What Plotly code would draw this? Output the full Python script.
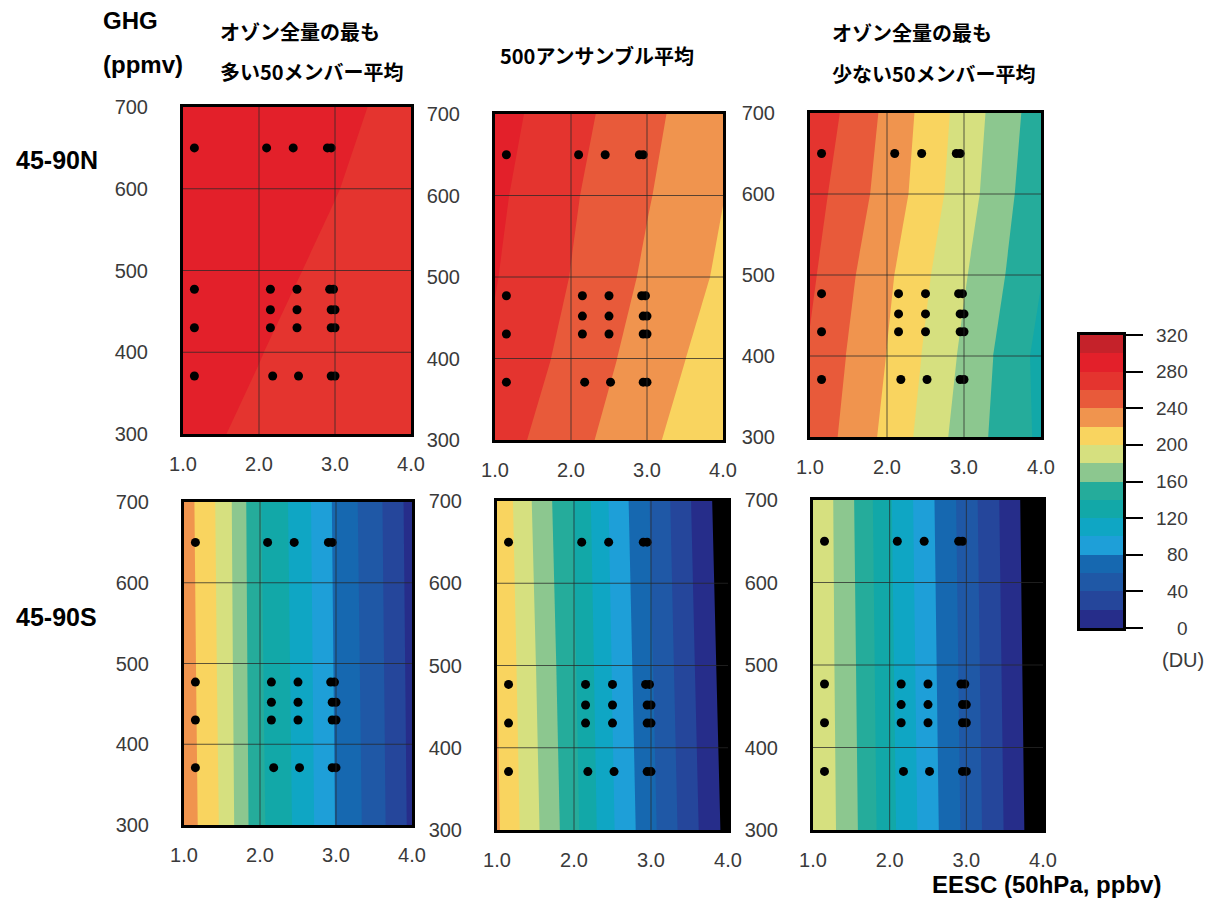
import plotly.graph_objects as go

W, H = 1209, 900

# ---------------- data ----------------
eesc_grid_top = [1.0, 2.0, 3.0, 4.0]
ghg_grid_top = [300, 400, 500, 600, 700]
eesc_grid_bottom = [1.0, 1.5, 2.0, 2.5, 3.0, 3.5, 4.0]
ghg_grid_bottom = [300, 500, 700]

# total ozone (DU), rows = GHG, columns = EESC
ozone_nh_high = [
    [284, 277, 270, 263],
    [287, 280.5, 273, 266],
    [291, 284, 277, 270],
    [294, 287, 280.5, 273],
    [297, 290, 283, 276],
]
ozone_nh_mean = [
    [269.5, 247, 224.5, 201.5],
    [277, 254, 231, 209.5],
    [281, 259.5, 237, 216.5],
    [284, 262.5, 241.5, 220.5],
    [288, 267, 245.5, 224],
]
ozone_nh_low = [
    [254, 215, 171, 136],
    [258, 219.5, 176, 134],
    [263.5, 224, 182, 141],
    [268.5, 232, 189, 145],
    [275.5, 235.5, 192, 149],
]
ozone_sh_high = [
    [233, 197, 144, 115.5, 79, 51, 15],
    [231.5, 195, 142.5, 114, 77.5, 49.5, 13.5],
    [230, 193.5, 141, 112.5, 76, 48, 12],
]
ozone_sh_mean = [
    [223, 184, 146, 102, 65.5, 28.5, -7],
    [220, 180.5, 142.5, 99, 62, 25, -11],
    [217, 176, 139, 95.5, 58.5, 21.5, -15],
]
ozone_sh_low = [
    [199.5, 167, 126, 90, 54.5, 19, -18],
    [199, 165, 124, 88, 52.5, 17, -20],
    [199, 163, 122, 86, 50.5, 15, -22],
]

# ensemble member scenario points
dot_eesc = [1.15, 2.1, 2.45, 2.9, 2.95,
            1.15, 2.15, 2.5, 2.93, 2.98,
            2.15, 2.5, 2.95, 3.0,
            1.15, 2.15, 2.5, 2.95, 3.0,
            1.15, 2.18, 2.52, 2.95, 3.0]
dot_ghg = [650, 650, 650, 650, 650,
           477, 477, 477, 477, 477,
           452, 452, 452, 452,
           430, 430, 430, 430, 430,
           371, 371, 371, 371, 371]

x_ticks = [1.0, 2.0, 3.0, 4.0]
x_ticklabels = ["1.0", "2.0", "3.0", "4.0"]
y_ticks = [300, 400, 500, 600, 700]
du_levels = [0, 20, 40, 60, 80, 100, 120, 140, 160, 180, 200, 220, 240, 260, 280, 300, 320]
du_ticks = [0, 40, 80, 120, 160, 200, 240, 280, 320]

band_colors = ["#262D8A", "#25469B", "#1F58A6", "#1668B0", "#1E9FD8", "#0FA6C4",
               "#12A8A8", "#25AC9B", "#8CC78F", "#D6E07F", "#F9D45F", "#F0944E",
               "#E85A3A", "#E4342F", "#E3202A", "#C5222A"]

titles_top = [
    ("オゾン全量の最も", 218, 31), ("多い50メンバー平均", 218, 71),
    ("500アンサンブル平均", 498, 56),
    ("オゾン全量の最も", 830, 33), ("少ない50メンバー平均", 830, 73),
]

# ---------------- figure ----------------
n = len(band_colors)
contour_cs = [[0.0, "#000000"]] + [[(k + 1) / n, c] for k, c in enumerate(band_colors)]
bar_cs = []
for k, c in enumerate(band_colors):
    bar_cs.append([k / n, c])
    bar_cs.append([(k + 1) / n, c])

panels = [
    (eesc_grid_top, ghg_grid_top, ozone_nh_high, (183, 411, 107, 434)),
    (eesc_grid_top, ghg_grid_top, ozone_nh_mean, (495, 723, 114, 440)),
    (eesc_grid_top, ghg_grid_top, ozone_nh_low, (810, 1041, 113, 437)),
    (eesc_grid_bottom, ghg_grid_bottom, ozone_sh_high, (184, 412, 502, 825)),
    (eesc_grid_bottom, ghg_grid_bottom, ozone_sh_mean, (497, 728, 501, 830)),
    (eesc_grid_bottom, ghg_grid_bottom, ozone_sh_low, (813, 1043, 500, 830)),
]

fig = go.Figure()
shapes = []
tickfont = dict(family="Liberation Sans, Arial", size=20, color="#3a3a3a")

for i, (xg, yg, z, (x0, x1, y0, y1)) in enumerate(panels, start=1):
    sx = "" if i == 1 else str(i)
    xa, ya = "x" + sx, "y" + sx
    fig.add_trace(go.Contour(
        x=xg, y=yg, z=z, xaxis=xa, yaxis=ya,
        autocontour=False,
        contours=dict(start=0, end=300, size=20, coloring="fill", showlines=False),
        line=dict(width=0, smoothing=0),
        colorscale=contour_cs, showscale=False, hoverinfo="skip",
    ))
    fig.add_trace(go.Scatter(
        x=dot_eesc, y=dot_ghg, xaxis=xa, yaxis=ya, mode="markers",
        marker=dict(color="black", size=9), hoverinfo="skip",
    ))
    fig.layout["xaxis" + sx] = dict(
        domain=[x0 / W, x1 / W], range=[x_ticks[0], x_ticks[-1]], anchor=ya,
        tickvals=x_ticks, ticktext=x_ticklabels, showgrid=False, zeroline=False,
        showline=True, mirror=True, linewidth=3, linecolor="black", ticks="",
        tickfont=tickfont, layer="above traces", ticklabelstandoff=10, automargin=False,
    )
    fig.layout["yaxis" + sx] = dict(
        domain=[1 - y1 / H, 1 - y0 / H], range=[y_ticks[0], y_ticks[-1]], anchor=xa,
        tickvals=y_ticks, showgrid=False, zeroline=False,
        showline=True, mirror=True, linewidth=3, linecolor="black", ticks="",
        tickfont=tickfont, layer="above traces", ticklabelstandoff=28, automargin=False,
    )
    for v in x_ticks[1:-1]:
        shapes.append(dict(type="line", xref=xa, yref=ya + " domain", x0=v, x1=v, y0=0, y1=1,
                           line=dict(color="rgba(40,40,40,0.75)", width=1), layer="above"))
    for v in y_ticks[1:-1]:
        shapes.append(dict(type="line", xref=xa + " domain", yref=ya, x0=0, x1=1, y0=v, y1=v,
                           line=dict(color="rgba(40,40,40,0.75)", width=1), layer="above"))

# colour bar as a heatmap column
band_centers = [(a + b) / 2 for a, b in zip(du_levels[:-1], du_levels[1:])]
fig.add_trace(go.Heatmap(
    x=[0], y=band_centers, z=[[v] for v in band_centers], xaxis="x7", yaxis="y7",
    zmin=du_levels[0], zmax=du_levels[-1], colorscale=bar_cs, showscale=False, hoverinfo="skip",
))
fig.layout["xaxis7"] = dict(domain=[1080 / W, 1123 / W], range=[-0.5, 0.5], anchor="y7",
                            showticklabels=False, showgrid=False, zeroline=False, automargin=False,
                            showline=True, mirror=True, linewidth=3, linecolor="black", ticks="")
fig.layout["yaxis7"] = dict(domain=[1 - 628 / H, 1 - 335 / H], range=[du_levels[0], du_levels[-1]],
                            anchor="x7", side="right", tickvals=du_ticks, ticks="outside",
                            ticklen=17, tickwidth=2, tickcolor="black", showticklabels=False,
                            showgrid=False, zeroline=False, showline=True, mirror=True,
                            linewidth=3, linecolor="black", automargin=False)

annotations = []
for v in du_ticks:
    annotations.append(dict(xref="paper", yref="y7", x=1190 / W, y=v, xanchor="right",
                            yanchor="middle", text=str(v), showarrow=False,
                            font=dict(family="Liberation Sans, Arial", size=19, color="#3a3a3a")))
annotations.append(dict(xref="paper", yref="paper", x=1160 / W, y=1 - 660 / H, xanchor="left",
                        yanchor="middle", text="(DU)", showarrow=False,
                        font=dict(family="Liberation Sans, Arial", size=20, color="#3a3a3a")))

for txt, px, py, sz in [("<b>GHG</b>", 101, 21, 24), ("<b>(ppmv)</b>", 101, 64, 24),
                        ("<b>45-90N</b>", 14, 160, 25), ("<b>45-90S</b>", 14, 617, 25),
                        ("<b>EESC (50hPa, ppbv)</b>", 930, 884, 24)]:
    annotations.append(dict(xref="paper", yref="paper", x=px / W, y=1 - py / H, xanchor="left",
                            yanchor="middle", text=txt, showarrow=False,
                            font=dict(family="Liberation Sans, Arial", size=sz, color="black")))
for txt, px, py in titles_top:
    annotations.append(dict(xref="paper", yref="paper", x=px / W, y=1 - py / H, xanchor="left",
                            yanchor="middle", text="<b>" + txt + "</b>", showarrow=False,
                            font=dict(family="Noto Sans CJK JP", size=20, color="black")))

fig.update_layout(
    width=W, height=H, margin=dict(l=0, r=0, t=0, b=0, pad=0, autoexpand=False),
    paper_bgcolor="white", plot_bgcolor="white", showlegend=False,
    font=dict(family="Liberation Sans, Arial", color="#3a3a3a"),
    shapes=shapes, annotations=annotations,
)

fig.write_html("out.html", config={"displayModeBar": False},
               post_script="document.body.style.margin='0';document.body.style.padding='0';")
